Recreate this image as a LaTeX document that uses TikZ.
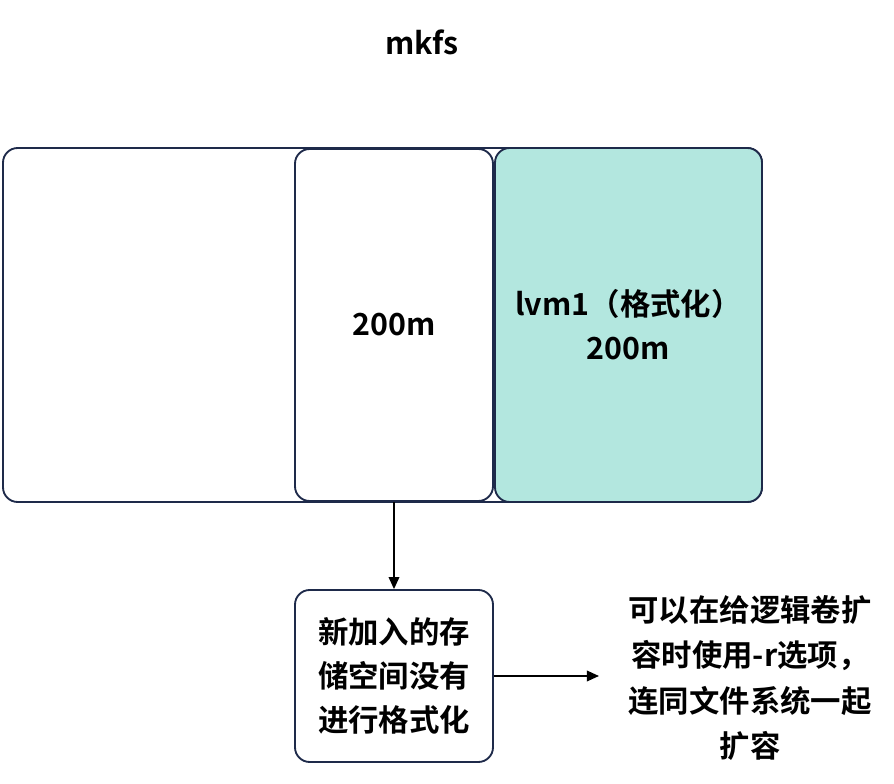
\documentclass[tikz,border=0pt]{standalone}
\usepackage{fontspec}
\setmainfont{Noto Sans CJK SC}[BoldFont={Noto Sans CJK SC Bold}]
\usepackage{tikz}
\usetikzlibrary{positioning,arrows.meta}
\definecolor{edge}{HTML}{1E2A4A}
\definecolor{teal}{HTML}{B3E7DF}

\begin{document}
\begin{tikzpicture}[x=0.75pt, y=-0.75pt,
  every node/.style={font=\bfseries\fontsize{22.8}{33}\selectfont},
  part/.style={draw=edge, line width=1.4pt, rounded corners=11pt, align=center, inner sep=0pt},
  note/.style={align=center, inner sep=0pt, font=\bfseries\fontsize{22.8}{34}\selectfont},
  link/.style={-{Triangle[length=9pt, width=8pt]}, line width=1pt}]
\useasboundingbox (0,0) rectangle (894,784);
\node (title) at (422,42) {mkfs};
\node[part, minimum width=759*0.75pt, minimum height=354*0.75pt] (disk) at (382.5,325) {};
\node[part, fill=white, minimum width=198*0.75pt, minimum height=352*0.75pt] (new) at (394,325) {200m};
\node[part, fill=teal, minimum width=267*0.75pt, minimum height=354*0.75pt] (lvm) at (628.5,325) {lvm1（格式化）\\200m};
\node[part, minimum width=198*0.75pt, minimum height=172*0.75pt] (raw) at (394,676) {新加入的存\\储空间没有\\进行格式化};
\node[note] (tip) at (750,678) {可以在给逻辑卷扩\\容时使用-r选项，\\连同文件系统一起\\扩容};
\draw[link] (new.south) -- (raw.north);
\draw[link] (raw.east) -- ++(105,0) coordinate (tipin);
\end{tikzpicture}
\end{document}
